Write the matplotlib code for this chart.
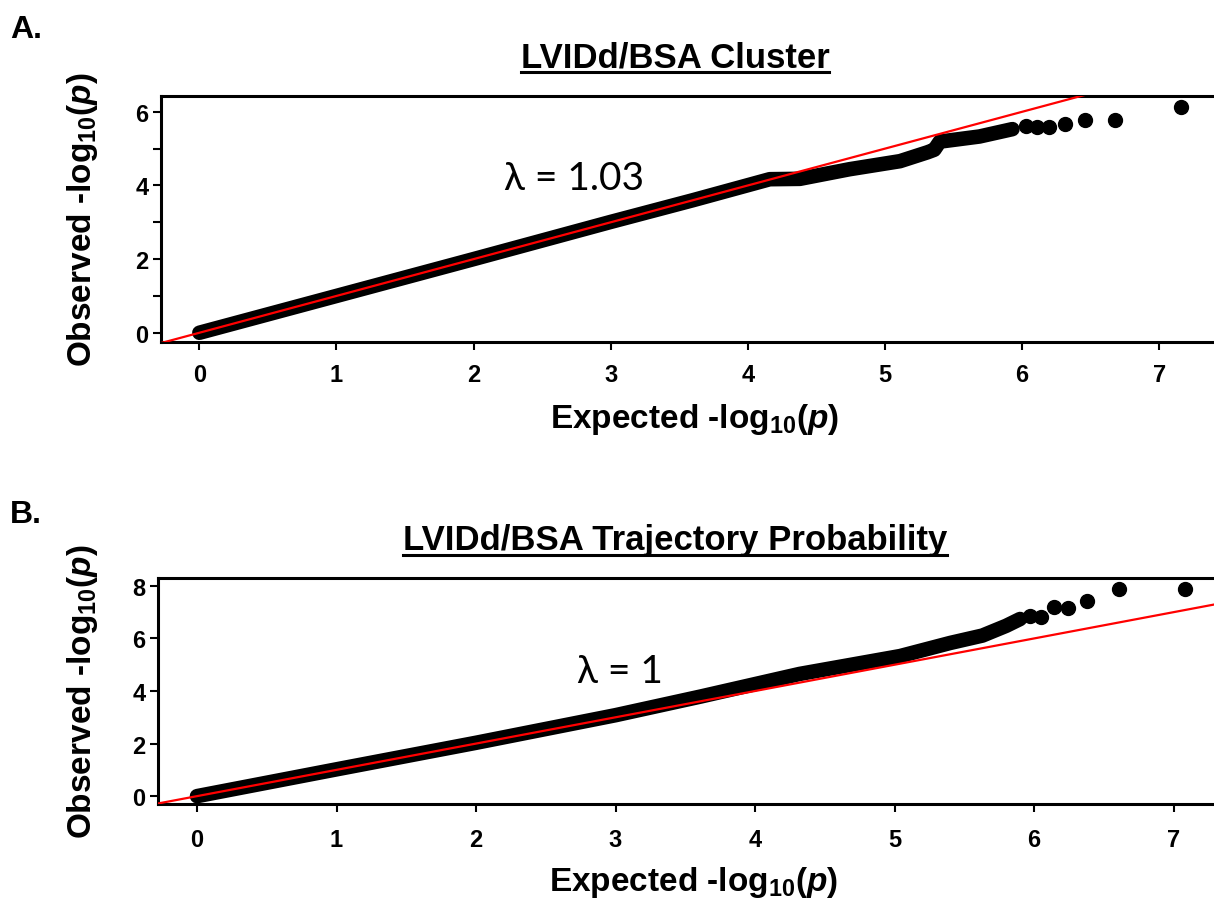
import matplotlib
matplotlib.use("Agg")
import matplotlib.pyplot as plt
from matplotlib.lines import Line2D

# ---- data (expected vs observed -log10 p) ----
# panel A: dense band of points, then the sparse tail
a_band_exp = [0.0, 1.0, 2.0, 3.0, 3.6, 4.16, 4.38, 4.74, 5.11, 5.31, 5.36, 5.4, 5.69, 5.93]
a_band_obs = [0.0, 1.0, 2.0, 3.01, 3.6, 4.17, 4.18, 4.44, 4.66, 4.9, 4.97, 5.19, 5.33, 5.53]
a_tail_exp = [6.03, 6.11, 6.2, 6.31, 6.46, 6.68, 7.16]
a_tail_obs = [5.62, 5.58, 5.58, 5.67, 5.79, 5.79, 6.14]

# panel B
b_band_exp = [0.0, 1.0, 2.0, 3.0, 3.61, 4.32, 5.04, 5.4, 5.63, 5.8, 5.9]
b_band_obs = [0.0, 1.02, 2.03, 3.08, 3.79, 4.65, 5.33, 5.83, 6.11, 6.48, 6.74]
b_tail_exp = [5.97, 6.05, 6.14, 6.24, 6.38, 6.61, 7.08]
b_tail_obs = [6.86, 6.8, 7.2, 7.16, 7.43, 7.89, 7.89]

x_ticks = [0, 1, 2, 3, 4, 5, 6, 7]
a_yticks = [0, 2, 4, 6]
a_yminor = [1, 3, 5]
b_yticks = [0, 2, 4, 6, 8]

plt.rcParams['font.family'] = ['Liberation Sans', 'DejaVu Sans']
plt.rcParams['font.weight'] = 'bold'
plt.rcParams['axes.labelweight'] = 'bold'
plt.rcParams['mathtext.fontset'] = 'custom'
plt.rcParams['mathtext.rm'] = 'Liberation Sans:bold'
plt.rcParams['mathtext.it'] = 'Liberation Sans:bold:italic'
plt.rcParams['mathtext.bf'] = 'Liberation Sans:bold'

fig = plt.figure(figsize=(12.14, 9.03), dpi=100)

XLAB = r'Expected -log$_{10}$($\mathit{p}$)'
YLAB = r'Observed -log$_{10}$($\mathit{p}$)'


def qq_panel(ax, band_x, band_y, tail_x, tail_y, xlim, ylim, yticks, yminor,
             lam, lam_pos, xpad, ylab_x):
    # thick band for the overlapping points
    ax.plot(band_x, band_y, color='black', lw=10.5, solid_capstyle='round',
            solid_joinstyle='round', zorder=2)
    ax.plot(tail_x, tail_y, 'o', color='black', ms=10, zorder=2)
    # expected line
    ax.plot(xlim, xlim, color='red', lw=1.6, zorder=3)
    ax.set_xlim(xlim)
    ax.set_ylim(ylim)
    ax.set_xticks(x_ticks)
    ax.set_yticks(yticks)
    if yminor:
        ax.set_yticks(yminor, minor=True)
    for s in ['left', 'top', 'bottom']:
        ax.spines[s].set_linewidth(2.2)
    ax.spines['right'].set_visible(False)
    ax.tick_params(axis='both', which='both', direction='out', length=6,
                   width=1.5, labelsize=17)
    ax.tick_params(axis='x', pad=xpad)
    ax.tick_params(axis='y', pad=3)
    ax.set_xlabel(XLAB, fontsize=24, fontweight='bold')
    ax.set_ylabel(YLAB, fontsize=24, fontweight='bold')
    ax.yaxis.set_label_coords(ylab_x, 0.5)
    ax.text(lam_pos[0], lam_pos[1], lam, transform=ax.transAxes,
            ha='center', va='center', fontsize=28, fontweight='normal',
            family=['Lato', 'Open Sans', 'DejaVu Sans'])


ax_a = fig.add_axes([0.1326, 0.6202, 0.8674, 0.2724])
qq_panel(ax_a, a_band_exp, a_band_obs, a_tail_exp, a_tail_obs,
         [-0.28, 7.4], [-0.25, 6.43], a_yticks, a_yminor,
         'λ = 1.03', (0.392, 0.667), 9, -0.058)
ax_a.xaxis.set_label_coords(0.507, -0.24)

ax_b = fig.add_axes([0.1301, 0.1085, 0.8699, 0.2503])
qq_panel(ax_b, b_band_exp, b_band_obs, b_tail_exp, b_tail_obs,
         [-0.28, 7.29], [-0.3, 8.3], b_yticks, None,
         'λ = 1', (0.4375, 0.588), 11, -0.055)
ax_b.xaxis.set_label_coords(0.507, -0.265)

# titles with underline
titles = [fig.text(0.556, 0.9258, 'LVIDd/BSA Cluster', ha='center',
                   va='baseline', fontsize=25),
          fig.text(0.556, 0.391, 'LVIDd/BSA Trajectory Probability',
                   ha='center', va='baseline', fontsize=25)]
fig.text(0.008, 0.958, 'A.', fontsize=23, va='baseline')
fig.text(0.008, 0.4208, 'B.', fontsize=23, va='baseline')

fig.canvas.draw()
r = fig.canvas.get_renderer()
W, H = fig.bbox.width, fig.bbox.height
for t in titles:
    bb = t.get_window_extent(r)
    x0, y0 = t.get_position()
    yy = y0 - 6.0 / H
    fig.add_artist(Line2D([bb.x0 / W, bb.x1 / W], [yy, yy],
                          transform=fig.transFigure, color='black', lw=2.2))

fig.savefig('out.png', dpi=100)
